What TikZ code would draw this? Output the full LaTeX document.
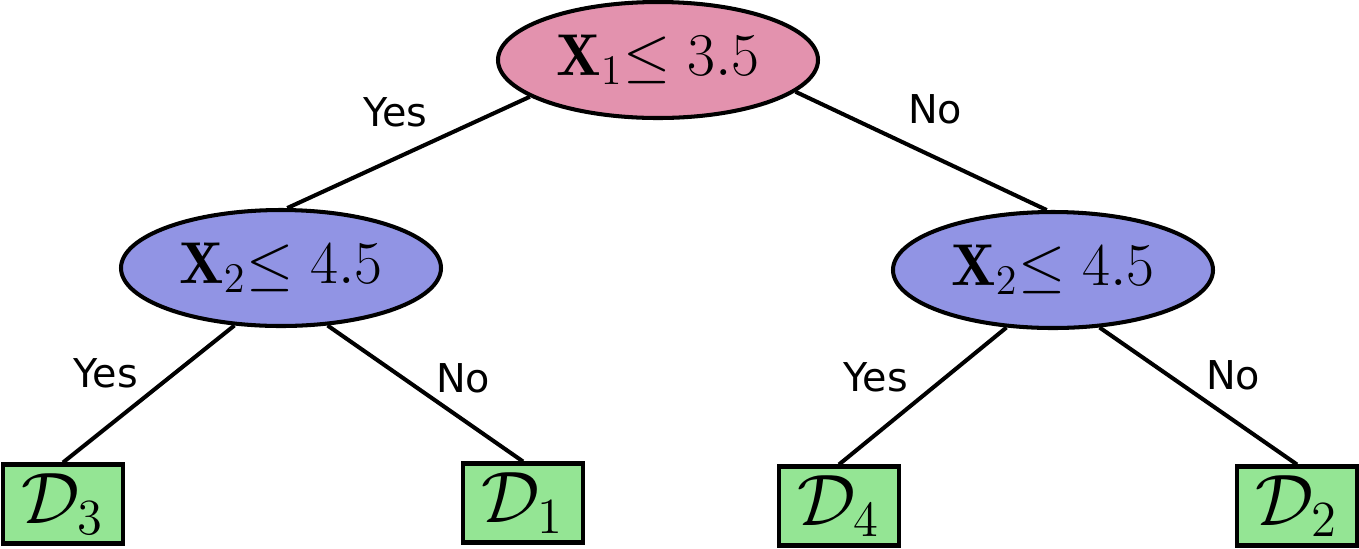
\documentclass[tikz,border=0pt]{standalone}
\usepackage{fontspec}
\newfontfamily\lblfont{DejaVu Sans}
\usetikzlibrary{shapes.geometric,positioning}
\definecolor{rootpink}{HTML}{E392AE}
\definecolor{splitblue}{HTML}{9194E4}
\definecolor{leafgreen}{HTML}{94E594}

\begin{document}
\begin{tikzpicture} [on grid,line width=1.15pt,
    split/.style={ellipse,draw,minimum width=3.2cm,minimum height=1.16cm,inner sep=0pt,font=\fontsize{16.8}{20}\selectfont},
    leaf/.style={rectangle,draw,fill=leafgreen,minimum width=1.2cm,minimum height=0.79cm,inner sep=0pt,font=\fontsize{21.5}{25}\selectfont},
    lbl/.style={font=\lblfont\fontsize{11.3}{13}\selectfont}]

  \useasboundingbox (0,0) rectangle (13.59,-5.48);

  \node[split,fill=rootpink] (root) at (6.58,-0.60) {$\mathbf{X}_1{\leq}\;3.5$};
  \node[split,fill=splitblue] (left) [below left=2.08cm and 3.77cm of root] {$\mathbf{X}_2{\leq}\;4.5$};
  \node[split,fill=splitblue] (right) [below right=2.10cm and 3.95cm of root] {$\mathbf{X}_2{\leq}\;4.5$};

  \node[leaf] (d3) [below left=2.36cm and 2.18cm of left] {$\mathcal{D}_3$};
  \node[leaf] (d1) [below right=2.35cm and 2.42cm of left] {$\mathcal{D}_1$};
  \node[leaf] (d4) [below left=2.36cm and 2.14cm of right] {$\mathcal{D}_4$};
  \node[leaf] (d2) [below right=2.36cm and 2.44cm of right] {$\mathcal{D}_2$};


  \path[every node/.style={lbl}]
    (root.196) edge node [xshift=-0.13cm,yshift=0.40cm] {Yes} (left.84)
    (root.347) edge node [xshift=0.14cm,yshift=0.42cm] {No} (right.96)
    (left.231) edge node [xshift=-0.43cm,yshift=0.21cm] {Yes} (d3.north)
    (left.309) edge node [xshift=0.38cm,yshift=0.15cm] {No} (d1.north)
    (right.231) edge node [xshift=-0.47cm,yshift=0.19cm] {Yes} (d4.north)
    (right.309) edge node [xshift=0.35cm,yshift=0.21cm] {No} (d2.north);

\end{tikzpicture}
\end{document}
